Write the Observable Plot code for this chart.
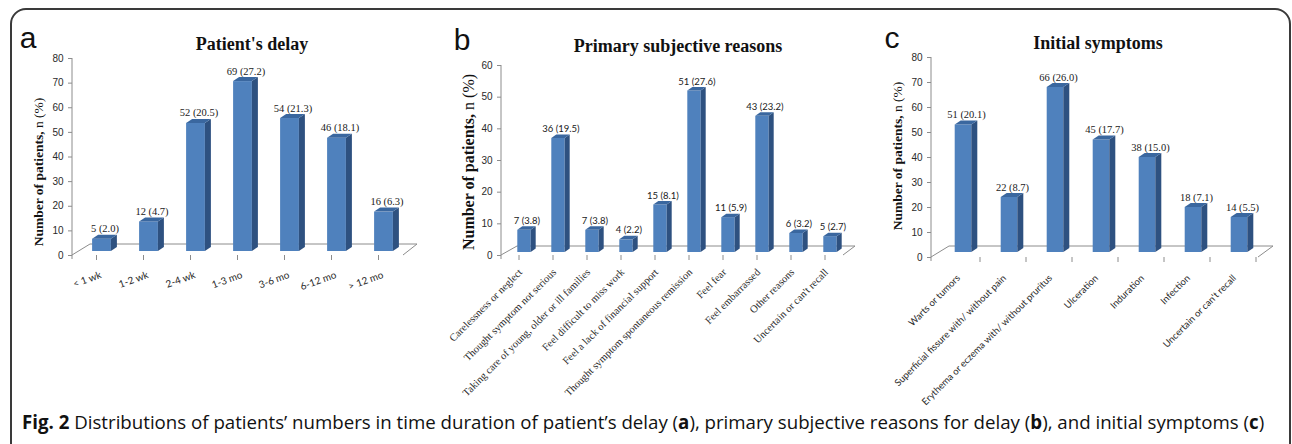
<!DOCTYPE html>
<html><head><meta charset="utf-8">
<script src="https://cdn.jsdelivr.net/npm/d3@7"></script>
<script src="https://cdn.jsdelivr.net/npm/@observablehq/plot@0.6"></script>
<style>
html,body{margin:0;padding:0;background:#fff;}
#wrap{position:relative;width:1292px;height:444px;overflow:hidden;background:#fff;}
#frame{position:absolute;left:10px;top:8px;width:1281px;height:520px;border:2px solid #3a3a3a;border-radius:16px;box-sizing:border-box;}
.panel{position:absolute;top:0;}
.panel svg{overflow:visible;}
#caption{position:absolute;left:22px;top:411px;font-family:"Open Sans",sans-serif;font-size:17px;line-height:22px;color:#111;white-space:nowrap;display:inline-block;}
</style></head>
<body>
<div id="wrap">
  <div id="frame"></div>
  <div class="panel" id="pa" style="left:0px"></div>
  <div class="panel" id="pb" style="left:430px"></div>
  <div class="panel" id="pc" style="left:860px"></div>
  <div id="caption"><b>Fig. 2</b> Distributions of patients’ numbers in time duration of patient’s delay (<b>a</b>), primary subjective reasons for delay (<b>b</b>), and initial symptoms (<b>c</b>)</div>
</div>
<script>
// ---- data ----
const delayCats = ["< 1 wk", "1-2 wk", "2-4 wk", "1-3 mo", "3-6 mo", "6-12 mo", "> 12 mo"];
const delayN = [5, 12, 52, 69, 54, 46, 16];
const delayPct = [2.0, 4.7, 20.5, 27.2, 21.3, 18.1, 6.3];
const delayTicks = [0, 10, 20, 30, 40, 50, 60, 70, 80];

const reasonCats = ["Carelessness or neglect", "Thought symptom not serious", "Taking care of young, older or ill families", "Feel difficult to miss work", "Feel a lack of financial support", "Thought symptom spontaneous remission", "Feel fear", "Feel embarrassed", "Other reasons", "Uncertain or can't recall"];
const reasonN = [7, 36, 7, 4, 15, 51, 11, 43, 6, 5];
const reasonPct = [3.8, 19.5, 3.8, 2.2, 8.1, 27.6, 5.9, 23.2, 3.2, 2.7];
const reasonTicks = [0, 10, 20, 30, 40, 50, 60];

const symptomCats = ["Warts or tumors", "Superficial fissure with/ without pain", "Erythema or eczema with/ without pruritus", "Ulceration", "Induration", "Infection", "Uncertain or can't recall"];
const symptomN = [51, 22, 66, 45, 38, 18, 14];
const symptomPct = [20.1, 8.7, 26.0, 17.7, 15.0, 7.1, 5.5];
const symptomTicks = [0, 10, 20, 30, 40, 50, 60, 70, 80];

const titles = ["Patient's delay", "Primary subjective reasons", "Initial symptoms"];
const letters = ["a", "b", "c"];

// ---- helpers ----
const FRONT = "#4F81BD", SIDE = "#2E5180", TOP = "#3A679F", GRID = "#8c8c8c";
const SERIF = "'Liberation Serif','Times New Roman',serif";
const SANS = "Lato,'Open Sans',sans-serif";
const ARIAL = "'Liberation Sans',Arial,sans-serif";

function bw(x, n, dim) {
  return x.bandwidth ? x.bandwidth() : (dim.width - dim.marginLeft - dim.marginRight) / n;
}

function decor(o) {
  return (index, scales, values, dim) => {
    const {x, y} = scales;
    const x0 = dim.marginLeft, x1 = dim.width - dim.marginRight, y0 = y(0);
    const b = bw(x, o.cats.length, dim);
    const g = d3.create("svg:g").attr("fill", "none").attr("stroke", GRID).attr("stroke-width", 1);
    g.append("path").attr("d", `M${x0},${y0}L${x0 + o.fl[0]},${y0 + o.fl[1]}L${x1 + o.fr[0]},${y0 + o.fr[1]}L${x1},${y0}`);
    g.append("line").attr("x1", x0).attr("x2", x0).attr("y1", y(o.ymax)).attr("y2", y0 + 4);
    const pos = o.tickCenter ? o.cats.map(c => x(c) + b / 2) : o.cats.map(c => x(c) + b);
    for (const p of pos) g.append("line").attr("x1", p).attr("x2", p).attr("y1", y0).attr("y2", y0 + 5);
    return g.node();
  };
}

function faces(data, o) {
  return (index, scales, values, dim) => {
    const {x, y} = scales;
    const b = bw(x, o.cats.length, dim);
    const g = d3.create("svg:g");
    for (const d of data) {
      const l = x(d.cat) + o.inset + o.dx, r = x(d.cat) + b - o.inset + o.dx;
      const t = y(d.n) + o.dy, bot = y(0) + o.dy;
      g.append("path").attr("fill", SIDE)
        .attr("d", `M${r},${t}L${r + o.sx},${t - o.sy}L${r + o.sx},${bot - o.sy}L${r},${bot}Z`);
      g.append("path").attr("fill", TOP)
        .attr("d", `M${l},${t}L${l + o.sx},${t - o.sy}L${r + o.sx},${t - o.sy}L${r},${t}Z`);
    }
    return g.node();
  };
}

function makePanel(el, o) {
  const H = 410;
  const data = o.cats.map((c, i) => ({cat: c, n: o.n[i], pct: o.pct[i]}));
  const plot = Plot.plot({
    width: o.width, height: H,
    marginLeft: o.ml, marginRight: o.mr, marginTop: o.mt, marginBottom: H - o.y0,
    x: {domain: o.cats, padding: 0, axis: null},
    y: {domain: [0, o.ymax], axis: null},
    style: {background: "transparent", overflow: "visible"},
    marks: [
      decor(o),
      Plot.axisY({ticks: o.yticks, tickSize: 4, tickPadding: 5, stroke: GRID, fill: "#2a2a2a",
        fontSize: 10, fontFamily: ARIAL, label: null, tickFormat: d => d}),
      Plot.barY(data, {x: "cat", y: "n", fill: FRONT, insetLeft: o.inset, insetRight: o.inset, dx: o.dx, dy: o.dy}),
      faces(data, o),
      Plot.text(data, {x: "cat", y: "n", text: d => `${d.n} (${d.pct.toFixed(1)})`,
        dx: o.dx + o.sx / 2, dy: o.dy - o.sy - 3, lineAnchor: "bottom",
        fontFamily: o.valFont, fontSize: o.valSize, fill: "#1a1a1a"}),
      Plot.text(data, {x: "cat", y: () => 0, text: "cat", rotate: o.rot, textAnchor: "end", lineAnchor: "middle",
        dx: o.ldx, dy: o.ldy, fontFamily: o.catFont, fontSize: o.catSize, fill: "#2a2a2a"})
    ]
  });
  const svg = d3.select(plot);
  svg.append("text").attr("x", o.lx).attr("y", o.ly).attr("font-family", ARIAL).attr("font-size", 30)
    .attr("fill", "#111").text(o.letter);
  svg.append("text").attr("x", o.tx).attr("y", o.ty).attr("text-anchor", "middle").attr("font-family", SERIF)
    .attr("font-weight", "bold").attr("font-size", 18).attr("fill", "#111").text(o.title);
  const yl = svg.append("text").attr("transform", `translate(${o.ylx},${o.yly}) rotate(-90)`)
    .attr("text-anchor", "middle").attr("font-family", SERIF).attr("font-size", o.ylSize).attr("fill", "#111");
  yl.append("tspan").attr("font-weight", "bold").text("Number of patients,");
  yl.append("tspan").text(" n (%)");
  el.appendChild(plot);
}

makePanel(document.getElementById("pa"), {
  cats: delayCats, n: delayN, pct: delayPct, yticks: delayTicks, ymax: 80,
  width: 430, ml: 72, mr: 27, mt: 58, y0: 255,
  inset: 14.1, dx: 5, dy: -4, sx: 6, sy: 4, fl: [18, -11], fr: [14, -11], tickCenter: true,
  valFont: SERIF, valSize: 10.5, catFont: SANS, catSize: 10, rot: -20, ldx: 4, ldy: 19,
  letter: letters[0], lx: 28, ly: 48, title: titles[0], tx: 252, ty: 50, ylx: 43, yly: 172, ylSize: 13.5
});
makePanel(document.getElementById("pb"), {
  cats: reasonCats, n: reasonN, pct: reasonPct, yticks: reasonTicks, ymax: 60,
  width: 440, ml: 71, mr: 27, mt: 65, y0: 255,
  inset: 10.3, dx: 5, dy: -3, sx: 5, sy: 3.5, fl: [16, -9], fr: [12, -9], tickCenter: true,
  valFont: SANS, valSize: 9.5, catFont: SERIF, catSize: 10.5, rot: -45, ldx: 1, ldy: 15,
  letter: letters[1], lx: 32, ly: 50, title: titles[1], tx: 248, ty: 52, ylx: 44, yly: 162, ylSize: 16
});
makePanel(document.getElementById("pc"), {
  cats: symptomCats, n: symptomN, pct: symptomPct, yticks: symptomTicks, ymax: 80,
  width: 432, ml: 71, mr: 34, mt: 57, y0: 257,
  inset: 14.7, dx: 6, dy: -5, sx: 6, sy: 4, fl: [18, -11], fr: [15, -11], tickCenter: false,
  valFont: SERIF, valSize: 10.5, catFont: SANS, catSize: 9.5, rot: -45, ldx: 1, ldy: 19,
  letter: letters[2], lx: 32, ly: 48, title: titles[2], tx: 238, ty: 49, ylx: 42, yly: 156, ylSize: 13.5
});

// fit caption to the reference width (x 22 .. 1265)
(function fitCaption() {
  const cap = document.getElementById("caption");
  const w = cap.getBoundingClientRect().width;
  if (w > 0) {
    const fs = 17 * 1243 / w;
    cap.style.fontSize = Math.min(19, Math.max(15, fs)) + "px";
  }
})();
</script>
</body></html>
